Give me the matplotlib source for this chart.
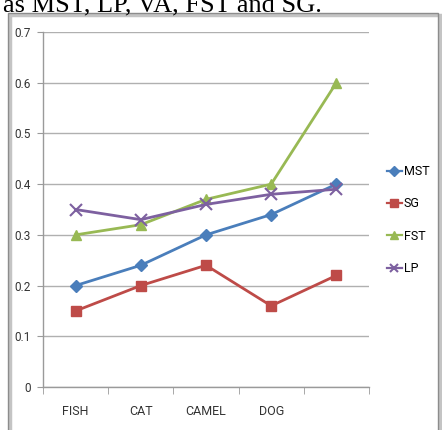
import matplotlib.pyplot as plt
from matplotlib.patches import Rectangle

# data
categories = ['FISH', 'CAT', 'CAMEL', 'DOG', '']
mst = [0.20, 0.24, 0.30, 0.34, 0.40]
sg = [0.15, 0.20, 0.24, 0.16, 0.22]
fst = [0.30, 0.32, 0.37, 0.40, 0.60]
lp = [0.35, 0.33, 0.36, 0.38, 0.39]
y_ticks = [0, 0.1, 0.2, 0.3, 0.4, 0.5, 0.6, 0.7]
y_labels = ['0', '0.1', '0.2', '0.3', '0.4', '0.5', '0.6', '0.7']

NARROW = ['Roboto', 'DejaVu Sans']

fig = plt.figure(figsize=(4.42, 4.30), dpi=100)

# caption fragment cut at the top of the scan
fig.text(3 / 442, 1 - 11 / 430, 'as MST, LP, VA, FST and SG.', family='Liberation Serif',
         fontsize=19, ha='left', va='baseline')

# frame around the chart
fig.patches.append(Rectangle((10 / 442, -0.05), 430 / 442, 1.05 - 15 / 430,
                             transform=fig.transFigure, fill=False,
                             edgecolor='#c4c4c4', lw=2.5))
fig.patches.append(Rectangle((8 / 442, -0.05), 430 / 442, 1.05 - 13 / 430,
                             transform=fig.transFigure, fill=False,
                             edgecolor='#8c8c8c', lw=1.0))

ax = fig.add_axes([43 / 442, 43 / 430, 326 / 442, 355 / 430])
x = range(len(categories))

ax.plot(x, mst, color='#4a7ebb', lw=2.0, marker='D', ms=6.5, label='MST')
ax.plot(x, sg, color='#be4b48', lw=2.0, marker='s', ms=7.5, label='SG')
ax.plot(x, fst, color='#98b954', lw=2.0, marker='^', ms=7.5, label='FST')
ax.plot(x, lp, color='#7d60a0', lw=2.0, marker='x', ms=8, mew=1.5, label='LP')

ax.set_xlim(-0.5, len(categories) - 0.5)
ax.set_ylim(0, 0.7)
ax.set_yticks(y_ticks)
ax.set_yticklabels(y_labels, family=NARROW, fontsize=8.5, color='#333333')
ax.set_xticks(list(x))
ax.set_xticklabels(categories, family=NARROW, fontsize=9, color='#333333')
ax.set_xticks([i - 0.5 for i in range(len(categories) + 1)], minor=True)
ax.tick_params(axis='x', which='major', length=0, pad=13)
ax.tick_params(axis='x', which='minor', length=5, color='#9a9a9a', direction='out')
ax.tick_params(axis='y', length=4, color='#9a9a9a', direction='out', pad=5)

ax.grid(axis='y', color='#b0b0b0', lw=1.0)
ax.set_axisbelow(True)
for side in ['top', 'right']:
    ax.spines[side].set_visible(False)
for side in ['left', 'bottom']:
    ax.spines[side].set_color('#9a9a9a')
    ax.spines[side].set_linewidth(1.0)

leg = ax.legend(loc='center left', bbox_to_anchor=(1.055, 0.47), frameon=False,
                prop={'family': NARROW, 'size': 9}, labelspacing=1.55,
                handlelength=1.2, handletextpad=0.15, markerscale=0.75,
                borderaxespad=0, borderpad=0)
for line in leg.get_lines():
    line.set_linewidth(1.6)

fig.savefig('out.png', dpi=100)
